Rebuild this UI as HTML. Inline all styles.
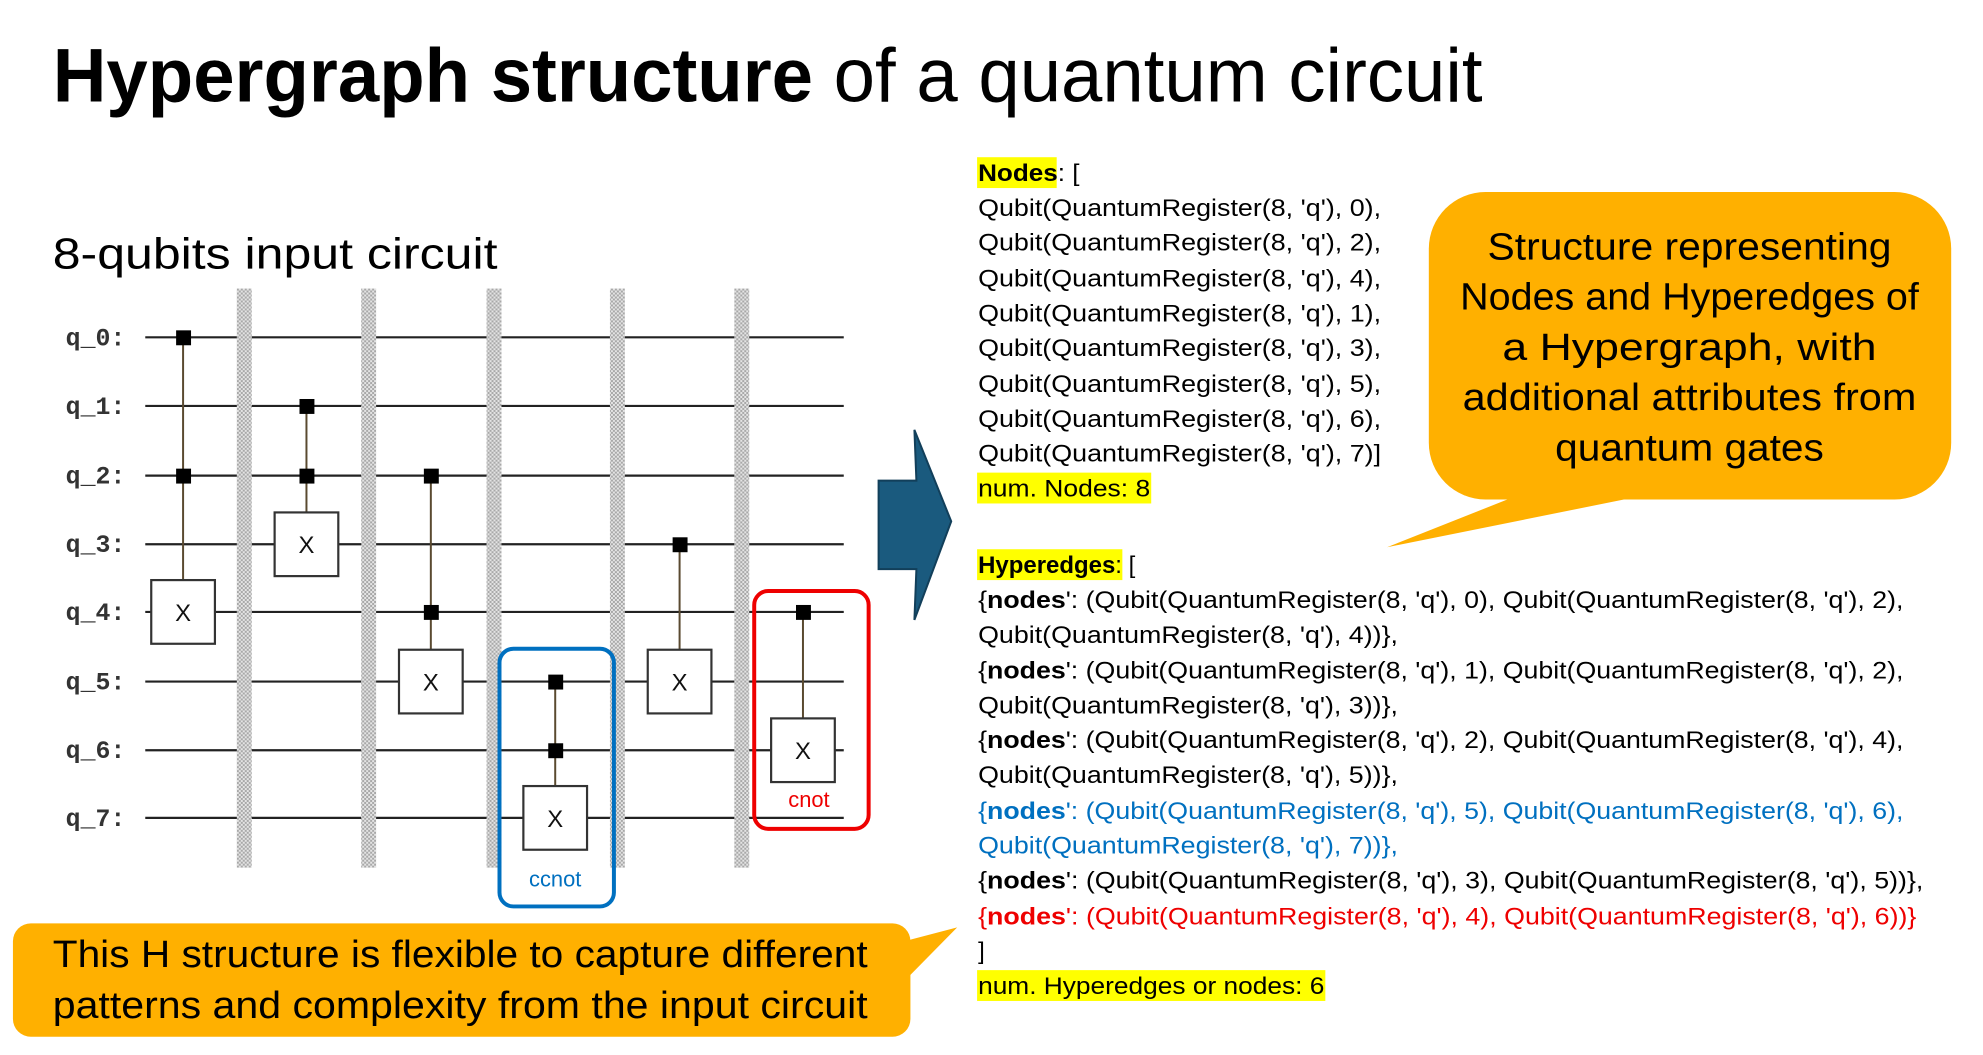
<!DOCTYPE html>
<html><head><meta charset="utf-8"><style>
html,body{margin:0;padding:0;background:#fff;width:1983px;height:1055px;overflow:hidden}
svg{display:block}
</style></head><body>
<svg width="1983" height="1055" viewBox="0 0 1983 1055" xmlns="http://www.w3.org/2000/svg" font-family="Liberation Sans, sans-serif">
<defs>
<pattern id="dots" width="4" height="4" patternUnits="userSpaceOnUse">
<rect width="4" height="4" fill="#e4e4e4"/><rect width="2" height="2" fill="#a8a8a8"/><rect x="2" y="2" width="2" height="2" fill="#a8a8a8"/>
</pattern>
</defs>
<g transform="scale(0.995)">
<!-- Title -->
<text x="53" y="102" font-size="76" textLength="1437" lengthAdjust="spacingAndGlyphs" fill="#000"><tspan font-weight="bold">Hypergraph structure</tspan> of a quantum circuit</text>
<text x="53" y="270" font-size="44" textLength="447" lengthAdjust="spacingAndGlyphs" fill="#000">8-qubits input circuit</text>

<!-- wires -->
<g stroke="#222" stroke-width="2.2">
<line x1="146" y1="339" x2="848" y2="339"/>
<line x1="146" y1="408" x2="848" y2="408"/>
<line x1="146" y1="478" x2="848" y2="478"/>
<line x1="146" y1="547" x2="848" y2="547"/>
<line x1="146" y1="615" x2="848" y2="615"/>
<line x1="146" y1="685" x2="848" y2="685"/>
<line x1="146" y1="754" x2="848" y2="754"/>
<line x1="146" y1="822" x2="848" y2="822"/>
</g>
<g font-family="Liberation Mono, monospace" font-size="25" font-weight="bold" fill="#333">
<text x="66" y="347">q_0:</text><text x="66" y="416">q_1:</text><text x="66" y="486">q_2:</text><text x="66" y="555">q_3:</text>
<text x="66" y="623">q_4:</text><text x="66" y="693">q_5:</text><text x="66" y="762">q_6:</text><text x="66" y="830">q_7:</text>
</g>
<!-- barriers -->
<g fill="url(#dots)">
<rect x="238" y="290" width="15" height="582"/>
<rect x="363" y="290" width="15" height="582"/>
<rect x="489" y="290" width="15" height="582"/>
<rect x="613" y="290" width="15" height="582"/>
<rect x="738" y="290" width="15" height="582"/>
</g>
<!-- gates -->
<g stroke="#5a4a30" stroke-width="2">
<line x1="184" y1="339" x2="184" y2="583"/>
<line x1="308" y1="408" x2="308" y2="515"/>
<line x1="433" y1="478" x2="433" y2="653"/>
<line x1="558" y1="685" x2="558" y2="790"/>
<line x1="683" y1="547" x2="683" y2="653"/>
<line x1="807" y1="615" x2="807" y2="722"/>
</g>
<g fill="#fff" stroke="#333" stroke-width="2.2">
<rect x="152" y="583" width="64" height="64"/>
<rect x="276" y="515" width="64" height="64"/>
<rect x="401" y="653" width="64" height="64"/>
<rect x="526" y="790" width="64" height="64"/>
<rect x="651" y="653" width="64" height="64"/>
<rect x="775" y="722" width="64" height="64"/>
</g>
<g font-family="Liberation Sans, sans-serif" font-size="24" fill="#111" text-anchor="middle">
<text x="184" y="624">X</text><text x="308" y="556">X</text><text x="433" y="694">X</text>
<text x="558" y="831">X</text><text x="683" y="694">X</text><text x="807" y="763">X</text>
</g>
<g fill="#000">
<rect x="177" y="332" width="15" height="15"/><rect x="177" y="471" width="15" height="15"/>
<rect x="301" y="401" width="15" height="15"/><rect x="301" y="471" width="15" height="15"/>
<rect x="426" y="471" width="15" height="15"/><rect x="426" y="608" width="15" height="15"/>
<rect x="551" y="678" width="15" height="15"/><rect x="551" y="747" width="15" height="15"/>
<rect x="676" y="540" width="15" height="15"/>
<rect x="800" y="608" width="15" height="15"/>
</g>
<!-- highlight boxes -->
<rect x="502" y="652" width="115" height="259" rx="14" fill="none" stroke="#0070c0" stroke-width="4"/>
<text x="558" y="891" font-size="22" fill="#0070c0" text-anchor="middle">ccnot</text>
<rect x="758" y="594" width="115" height="239" rx="14" fill="none" stroke="#ee0000" stroke-width="4"/>
<text x="813" y="811" font-size="22" fill="#ee0000" text-anchor="middle">cnot</text>

<!-- arrow -->
<polygon points="883,483 921,483 919,432 956,524 919,623 921,572 883,572" fill="#1a5a7e" stroke="#123f5a" stroke-width="2"/>

<!-- right callout -->
<rect x="1436" y="193" width="525" height="309" rx="57" fill="#ffb000"/>
<polygon points="1525,498 1652,498 1394,550" fill="#ffb000"/>
<g font-size="38" fill="#000" text-anchor="middle">
<text x="1698" y="261" textLength="406" lengthAdjust="spacingAndGlyphs">Structure representing</text>
<text x="1698" y="311" textLength="461" lengthAdjust="spacingAndGlyphs">Nodes and Hyperedges of</text>
<text x="1698" y="362" textLength="376" lengthAdjust="spacingAndGlyphs">a Hypergraph, with</text>
<text x="1698" y="412" textLength="456" lengthAdjust="spacingAndGlyphs">additional attributes from</text>
<text x="1698" y="463" textLength="270" lengthAdjust="spacingAndGlyphs">quantum gates</text>
</g>

<!-- bottom callout -->
<rect x="13" y="928" width="902" height="114" rx="18" fill="#ffb000"/>
<polygon points="905,947 962,932 905,990" fill="#ffb000"/>
<g font-size="38" fill="#000">
<text x="53" y="972" textLength="819" lengthAdjust="spacingAndGlyphs">This H structure is flexible to capture different</text>
<text x="53" y="1023" textLength="819" lengthAdjust="spacingAndGlyphs">patterns and complexity from the input circuit</text>
</g>

<!-- right text -->
<g fill="#ffff00">
<rect x="982" y="158" width="80" height="31"/>
<rect x="982" y="475" width="175" height="31"/>
<rect x="982" y="552" width="146" height="31"/>
<rect x="982" y="975" width="350" height="31"/>
</g>
<g font-size="24" fill="#000">
<text x="983" y="182" textLength="102" lengthAdjust="spacingAndGlyphs"><tspan font-weight="bold">Nodes</tspan>: [</text>
<text x="983" y="217" textLength="405" lengthAdjust="spacingAndGlyphs">Qubit(QuantumRegister(8, 'q'), 0),</text>
<text x="983" y="252" textLength="405" lengthAdjust="spacingAndGlyphs">Qubit(QuantumRegister(8, 'q'), 2),</text>
<text x="983" y="288" textLength="405" lengthAdjust="spacingAndGlyphs">Qubit(QuantumRegister(8, 'q'), 4),</text>
<text x="983" y="323" textLength="405" lengthAdjust="spacingAndGlyphs">Qubit(QuantumRegister(8, 'q'), 1),</text>
<text x="983" y="358" textLength="405" lengthAdjust="spacingAndGlyphs">Qubit(QuantumRegister(8, 'q'), 3),</text>
<text x="983" y="394" textLength="405" lengthAdjust="spacingAndGlyphs">Qubit(QuantumRegister(8, 'q'), 5),</text>
<text x="983" y="429" textLength="405" lengthAdjust="spacingAndGlyphs">Qubit(QuantumRegister(8, 'q'), 6),</text>
<text x="983" y="464" textLength="405" lengthAdjust="spacingAndGlyphs">Qubit(QuantumRegister(8, 'q'), 7)]</text>
<text x="983" y="499" textLength="173" lengthAdjust="spacingAndGlyphs">num. Nodes: 8</text>

<text x="983" y="576" textLength="158" lengthAdjust="spacingAndGlyphs"><tspan font-weight="bold">Hyperedges</tspan>: [</text>
<text x="983" y="611" textLength="930" lengthAdjust="spacingAndGlyphs">{<tspan font-weight="bold">nodes</tspan>': (Qubit(QuantumRegister(8, 'q'), 0), Qubit(QuantumRegister(8, 'q'), 2),</text>
<text x="983" y="646" textLength="422" lengthAdjust="spacingAndGlyphs">Qubit(QuantumRegister(8, 'q'), 4))},</text>
<text x="983" y="682" textLength="930" lengthAdjust="spacingAndGlyphs">{<tspan font-weight="bold">nodes</tspan>': (Qubit(QuantumRegister(8, 'q'), 1), Qubit(QuantumRegister(8, 'q'), 2),</text>
<text x="983" y="717" textLength="422" lengthAdjust="spacingAndGlyphs">Qubit(QuantumRegister(8, 'q'), 3))},</text>
<text x="983" y="752" textLength="930" lengthAdjust="spacingAndGlyphs">{<tspan font-weight="bold">nodes</tspan>': (Qubit(QuantumRegister(8, 'q'), 2), Qubit(QuantumRegister(8, 'q'), 4),</text>
<text x="983" y="787" textLength="422" lengthAdjust="spacingAndGlyphs">Qubit(QuantumRegister(8, 'q'), 5))},</text>
<text x="983" y="823" fill="#0070c0" textLength="930" lengthAdjust="spacingAndGlyphs">{<tspan font-weight="bold">nodes</tspan>': (Qubit(QuantumRegister(8, 'q'), 5), Qubit(QuantumRegister(8, 'q'), 6),</text>
<text x="983" y="858" fill="#0070c0" textLength="422" lengthAdjust="spacingAndGlyphs">Qubit(QuantumRegister(8, 'q'), 7))},</text>
<text x="983" y="893" textLength="950" lengthAdjust="spacingAndGlyphs">{<tspan font-weight="bold">nodes</tspan>': (Qubit(QuantumRegister(8, 'q'), 3), Qubit(QuantumRegister(8, 'q'), 5))},</text>
<text x="983" y="929" fill="#ee0000" textLength="943" lengthAdjust="spacingAndGlyphs">{<tspan font-weight="bold">nodes</tspan>': (Qubit(QuantumRegister(8, 'q'), 4), Qubit(QuantumRegister(8, 'q'), 6))}</text>
<text x="983" y="964">]</text>
<text x="983" y="999" textLength="348" lengthAdjust="spacingAndGlyphs">num. Hyperedges or nodes: 6</text>
</g>
</g>
</svg>
</body></html>
